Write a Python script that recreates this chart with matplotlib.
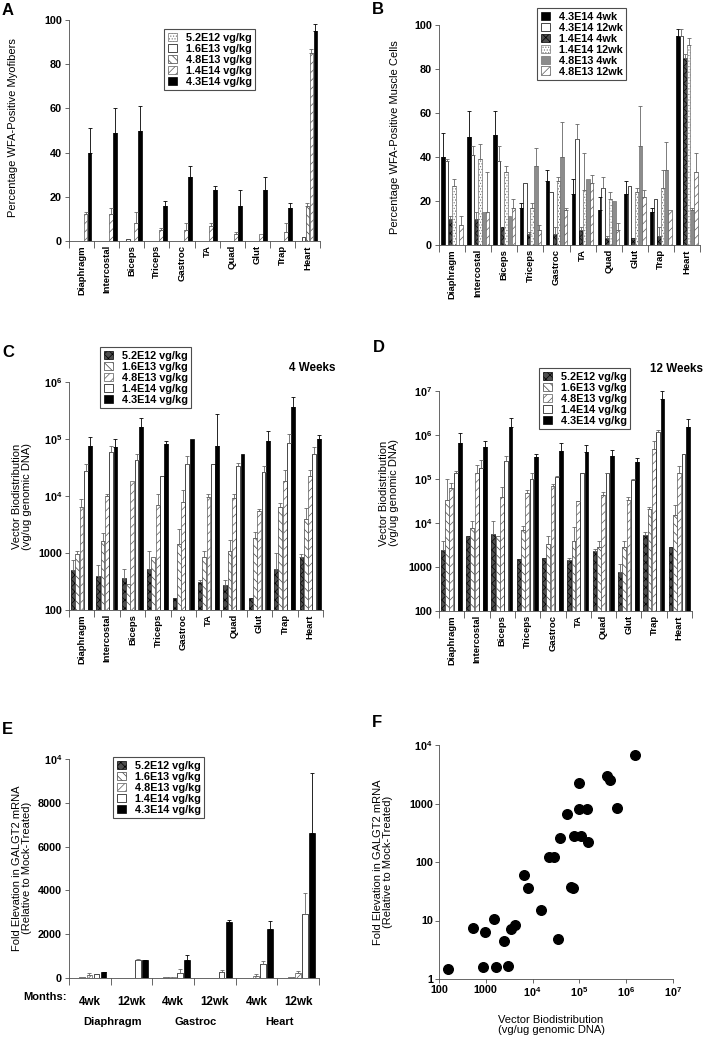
import numpy as np
import matplotlib
matplotlib.use("Agg")
import matplotlib.pyplot as plt
from matplotlib.patches import Patch
from matplotlib.ticker import FixedLocator, NullLocator, NullFormatter
from matplotlib.transforms import blended_transform_factory

W, H = 706, 1040

plt.rcParams["font.family"] = ["Liberation Sans", "DejaVu Sans"]
plt.rcParams["font.weight"] = "bold"
plt.rcParams["hatch.linewidth"] = 0.5
plt.rcParams["mathtext.fontset"] = "custom"
plt.rcParams["mathtext.rm"] = "Liberation Sans:bold"
plt.rcParams["mathtext.bf"] = "Liberation Sans:bold"
plt.rcParams["mathtext.default"] = "bf"

muscles = ["Diaphragm", "Intercostal", "Biceps", "Triceps", "Gastroc",
           "TA", "Quad", "Glut", "Trap", "Heart"]

# ---- panel A: % WFA-positive myofibers ----
doses = ["5.2E12 vg/kg", "1.6E13 vg/kg", "4.8E13 vg/kg", "1.4E14 vg/kg", "4.3E14 vg/kg"]
a_52e12 = [0, 0, 0, 0, 0, 0, 0, 0, 0, 0]
a_16e13 = [0, 0, 1, 0, 0, 0, 0, 0, 0, 2]
a_48e13 = [0, 0, 0, 0, 0, 0, 0, 0, 0, 16]
a_14e14 = [12, 12, 8, 5, 5, 7, 3, 3, 4, 85]
a_43e14 = [40, 49, 50, 16, 29, 23, 16, 23, 15, 95]
a_err_48e13 = [0, 0, 0, 0, 0, 0, 0, 0, 0, 1]
a_err_14e14 = [1, 3, 5, 1, 3, 1, 1, 0, 4, 2]
a_err_43e14 = [11, 11, 11, 2, 5, 2, 7, 6, 2, 3]

# ---- panel B: 4wk vs 12wk ----
b_labels = ["4.3E14 4wk", "4.3E14 12wk", "1.4E14 4wk", "1.4E14 12wk",
            "4.8E13 4wk", "4.8E13 12wk"]
b_43_4wk = [40, 49, 50, 17, 29, 23, 16, 23, 15, 95]
b_43_12wk = [38, 41, 38, 28, 24, 48, 26, 27, 21, 95]
b_14_4wk = [12, 12, 8, 5, 5, 7, 3, 3, 4, 85]
b_14_12wk = [27, 39, 33, 17, 29, 25, 21, 24, 26, 91]
b_48_4wk = [0, 15, 13, 36, 40, 30, 20, 45, 34, 16]
b_48_12wk = [9, 15, 17, 7, 16, 28, 7, 22, 16, 33]
b_err_43_4wk = [11, 12, 11, 2, 5, 7, 6, 6, 2, 3]
b_err_43_12wk = [1, 4, 7, 0, 0, 7, 5, 0, 0, 3]
b_err_14_4wk = [1, 3, 0, 1, 3, 1, 1, 0, 4, 2]
b_err_14_12wk = [3, 7, 3, 2, 2, 17, 3, 2, 8, 3]
b_err_48_4wk = [0, 0, 0, 8, 16, 0, 0, 18, 13, 1]
b_err_48_12wk = [4, 18, 4, 2, 1, 4, 3, 3, 0, 9]

# ---- panel C: biodistribution 4 weeks ----
c_52e12 = [510, 390, 370, 520, 160, 310, 270, 160, 520, 840]
c_16e13 = [950, 1650, 290, 850, 1450, 850, 1100, 1850, 6500, 4000]
c_48e13 = [6500, 10000, 18000, 7000, 8000, 9700, 9400, 5500, 18000, 22000]
c_14e14 = [27000, 58000, 43000, 22000, 37000, 36000, 34000, 26000, 84000, 55000]
c_43e14 = [76000, 73000, 160000, 82000, 100000, 75000, 54000, 92000, 360000, 99000]
c_err_52e12 = [230, 230, 160, 580, 0, 20, 60, 0, 480, 110]
c_err_16e13 = [150, 550, 0, 0, 1150, 250, 600, 450, 1100, 2200]
c_err_48e13 = [2500, 700, 0, 4000, 4500, 1300, 1600, 300, 11000, 7000]
c_err_14e14 = [10000, 17000, 12000, 0, 13000, 0, 4000, 7000, 36000, 18000]
c_err_43e14 = [32000, 27000, 70000, 12000, 0, 205000, 0, 48000, 190000, 18000]

# ---- panel D: biodistribution 12 weeks ----
d_52e12 = [2400, 5100, 5600, 1500, 1600, 1420, 2300, 770, 5400, 2800]
d_16e13 = [34000, 7800, 5100, 7000, 3300, 3800, 2900, 2900, 21000, 15000]
d_48e13 = [63000, 140000, 38000, 48000, 68000, 31000, 44000, 34000, 480000, 140000]
d_14e14 = [140000, 180000, 250000, 100000, 110000, 135000, 135000, 95000, 1200000, 370000]
d_43e14 = [650000, 530000, 1500000, 310000, 440000, 420000, 340000, 240000, 6600000, 1500000]
d_err_52e12 = [1400, 0, 5400, 0, 0, 150, 300, 380, 700, 0]
d_err_16e13 = [66000, 3200, 0, 1500, 1800, 4300, 900, 1000, 2000, 10000]
d_err_48e13 = [17000, 70000, 27000, 7000, 10000, 1000, 6000, 4000, 260000, 60000]
d_err_14e14 = [10000, 90000, 90000, 40000, 5000, 0, 5000, 3000, 80000, 0]
d_err_43e14 = [450000, 210000, 900000, 60000, 230000, 180000, 120000, 60000, 3400000, 800000]

# ---- panel E: GALGT2 mRNA ----
e_times = ["4wk", "12wk", "4wk", "12wk", "4wk", "12wk"]
e_tissues = ["Diaphragm", "Gastroc", "Heart"]
e_52e12 = [15, 0, 10, 0, 0, 10]
e_16e13 = [60, 20, 40, 20, 0, 30]
e_48e13 = [130, 0, 60, 0, 110, 230]
e_14e14 = [200, 800, 250, 260, 650, 2930]
e_43e14 = [270, 820, 820, 2540, 2260, 6600]
e_err_48e13 = [100, 0, 0, 0, 50, 110]
e_err_14e14 = [0, 80, 150, 90, 120, 950]
e_err_43e14 = [20, 20, 220, 100, 330, 2750]

# ---- panel F: mRNA vs biodistribution ----
f_biodist = [155, 525, 970, 870, 1480, 1630, 2460, 2950, 3450, 4180, 6700, 8100,
             15300, 35000, 65000, 72000, 1.55e6, 3.9e5, 4.6e5, 6.5e5, 1.0e5, 1.0e5,
             1.45e5, 55000, 75000, 1.1e5, 1.5e5, 38000, 22000, 29000]
f_fold = [1.47, 7.5, 6.3, 1.6, 10.6, 1.6, 4.4, 1.7, 7.1, 8.5, 59, 36,
          15, 4.85, 38, 36, 6700, 2900, 2550, 830, 2250, 800,
          800, 660, 280, 280, 220, 260, 120, 120]

# bar styles
S_DOTS = dict(facecolor="white", edgecolor="0.45", hatch="......")
S_WHITE = dict(facecolor="white", edgecolor="black")
S_BACK = dict(facecolor="white", edgecolor="0.25", hatch="\\\\\\\\")
S_FWD = dict(facecolor="white", edgecolor="0.35", hatch="////")
S_BLACK = dict(facecolor="black", edgecolor="black")
S_CHECK = dict(facecolor="0.3", edgecolor="black", hatch="xxxx")
S_GRAY = dict(facecolor="0.55", edgecolor="0.45")

TICK_FS = 6.8
YTICK_FS = 7.8
LABEL_FS = 8.0

fig = plt.figure(figsize=(W / 100, H / 100), dpi=100)


def px_axes(l, t, r, b):
    return fig.add_axes([l / W, 1 - b / H, (r - l) / W, (b - t) / H])


def draw_bars(ax, means, errs, styles, centers, width, bottom=0):
    n = len(means[0])
    base = np.arange(n)
    for vals, err, st, off in zip(means, errs, styles, centers):
        vals = np.asarray(vals, float)
        err = np.asarray(err, float)
        x = base + off
        keep = vals > 0
        ax.bar(x[keep], vals[keep] - bottom, width, bottom=bottom, linewidth=0.5, **st)
        ek = keep & (err > 0)
        ec = "black" if st["facecolor"] == "black" else "0.4"
        ax.errorbar(x[ek], vals[ek], yerr=[np.zeros(ek.sum()), err[ek]], fmt="none",
                    ecolor=ec, elinewidth=0.6, capsize=1.4, capthick=0.6)


def style_axes(ax, labels, rotate=True):
    n = len(labels)
    for s in ("top", "right"):
        ax.spines[s].set_visible(False)
    for s in ("left", "bottom"):
        ax.spines[s].set_linewidth(0.6)
        ax.spines[s].set_color("0.3")
    ax.set_xlim(0, n)
    ax.xaxis.set_major_locator(FixedLocator(np.arange(n + 1)))
    ax.xaxis.set_major_formatter(NullFormatter())
    ax.set_xticks(np.arange(n) + 0.5, labels, minor=True,
                  rotation=90 if rotate else 0, fontsize=TICK_FS)
    ax.tick_params(axis="x", which="major", length=5, width=0.6, color="0.3")
    ax.tick_params(axis="x", which="minor", length=0, pad=3)
    ax.tick_params(axis="y", which="major", length=3, width=0.6, labelsize=YTICK_FS,
                   pad=2, color="0.3")
    ax.tick_params(axis="y", which="minor", length=0)


def add_legend(ax, styles, labels, x0, y0, fs=7.8):
    handles = [Patch(linewidth=0.5, label=l, **st) for st, l in zip(styles, labels)]
    leg = ax.legend(handles=handles, loc="upper left", bbox_to_anchor=(x0 / W, 1 - y0 / H),
                    bbox_transform=fig.transFigure, borderaxespad=0, fancybox=False,
                    fontsize=fs, handlelength=0.85, handleheight=0.85, handletextpad=0.8,
                    labelspacing=0.08, borderpad=0.35, framealpha=1)
    leg.get_frame().set_edgecolor("0.3")
    leg.get_frame().set_linewidth(0.8)


def ylabel(x, y, text, fs=LABEL_FS):
    fig.text(x / W, 1 - y / H, text, rotation=90, ha="center", va="center",
             fontsize=fs, fontweight="normal", linespacing=1.0)


def letter(x, y, s):
    fig.text(x / W, 1 - y / H, s, ha="left", va="top", fontsize=12, fontweight="bold")


dose_ticks = [100, 1000, 1e4, 1e5, 1e6, 1e7]
dose_tick_labels = ["100", "1000", "$10^4$", "$10^5$", "$10^6$", "$10^7$"]

# ---- A ----
axA = px_axes(69, 20, 320, 241)
styles_a = [S_DOTS, S_WHITE, S_BACK, S_FWD, S_BLACK]
draw_bars(axA, [a_52e12, a_16e13, a_48e13, a_14e14, a_43e14],
          [np.zeros(10), np.zeros(10), a_err_48e13, a_err_14e14, a_err_43e14],
          styles_a, [0.18, 0.34, 0.5, 0.66, 0.82], 0.15)
style_axes(axA, muscles)
axA.set_ylim(0, 100)
axA.set_yticks([0, 20, 40, 60, 80, 100])
add_legend(axA, styles_a, doses, 164, 29)
ylabel(13, 128, "Percentage WFA-Positive Myofibers")
letter(2, 3, "A")

# ---- B ----
axB = px_axes(439, 25, 700, 245)
styles_b = [S_BLACK, S_WHITE, S_CHECK, S_DOTS, S_GRAY, S_FWD]
draw_bars(axB, [b_43_4wk, b_43_12wk, b_14_4wk, b_14_12wk, b_48_4wk, b_48_12wk],
          [b_err_43_4wk, b_err_43_12wk, b_err_14_4wk, b_err_14_12wk, b_err_48_4wk, b_err_48_12wk],
          styles_b, [0.15, 0.29, 0.43, 0.57, 0.71, 0.85], 0.13)
style_axes(axB, muscles)
axB.set_ylim(0, 100)
axB.set_yticks([0, 20, 40, 60, 80, 100])
add_legend(axB, styles_b, b_labels, 537, 8)
ylabel(395, 137, "Percentage WFA-Positive Muscle Cells")
letter(372, 2, "B")

# ---- C ----
styles_cd = [S_CHECK, S_BACK, S_FWD, S_WHITE, S_BLACK]
axC = px_axes(69, 382, 323, 610)
axC.set_yscale("log")
draw_bars(axC, [c_52e12, c_16e13, c_48e13, c_14e14, c_43e14],
          [c_err_52e12, c_err_16e13, c_err_48e13, c_err_14e14, c_err_43e14],
          styles_cd, [0.15, 0.32, 0.49, 0.66, 0.83], 0.15, bottom=100)
style_axes(axC, muscles)
axC.set_ylim(100, 1e6)
axC.set_yticks(dose_ticks[:5], dose_tick_labels[:5])
axC.yaxis.set_minor_locator(NullLocator())
add_legend(axC, styles_cd, doses, 100, 347)
ylabel(22, 496, "Vector Biodistribution\n(vg/ug genomic DNA)")
fig.text(312 / W, 1 - 368 / H, "4 Weeks", ha="center", va="center", fontsize=8.4)
letter(2, 345, "C")

# ---- D ----
axD = px_axes(439, 391, 692, 611)
axD.set_yscale("log")
draw_bars(axD, [d_52e12, d_16e13, d_48e13, d_14e14, d_43e14],
          [d_err_52e12, d_err_16e13, d_err_48e13, d_err_14e14, d_err_43e14],
          styles_cd, [0.15, 0.32, 0.49, 0.66, 0.83], 0.15, bottom=100)
style_axes(axD, muscles)
axD.set_ylim(100, 1e7)
axD.set_yticks(dose_ticks, dose_tick_labels)
axD.yaxis.set_minor_locator(NullLocator())
add_legend(axD, styles_cd, doses, 539, 368)
ylabel(389, 493, "Vector Biodistribution\n(vg/ug genomic DNA)")
fig.text(677 / W, 1 - 369 / H, "12 Weeks", ha="center", va="center", fontsize=8.4)
letter(373, 340, "D")

# ---- E ----
axE = px_axes(69, 759, 319, 978)
draw_bars(axE, [e_52e12, e_16e13, e_48e13, e_14e14, e_43e14],
          [np.zeros(6), np.zeros(6), e_err_48e13, e_err_14e14, e_err_43e14],
          styles_cd, [0.15, 0.32, 0.49, 0.66, 0.83], 0.14)
style_axes(axE, e_times, rotate=False)
axE.tick_params(axis="x", which="minor", pad=13, labelsize=8.4)
axE.set_ylim(0, 10000)
axE.set_yticks([0, 2000, 4000, 6000, 8000, 10000],
               ["0", "2000", "4000", "6000", "8000", "$10^4$"])
tr = blended_transform_factory(axE.transData, axE.transAxes)
axE.text(-0.05, -0.087, "Months:", transform=tr, ha="right", va="center", fontsize=8.0)
for i, t in enumerate(e_tissues):
    axE.text(2 * i + 1.05, -0.2, t, transform=tr, ha="center", va="center", fontsize=8.0)
add_legend(axE, styles_cd, doses, 113, 757)
ylabel(22, 868, "Fold Elevation in GALGT2 mRNA\n(Relative to Mock-Treated)")
letter(2, 722, "E")

# ---- F ----
axF = px_axes(439, 745, 673, 979)
axF.scatter(f_biodist, f_fold, s=48, color="black", zorder=3, clip_on=False)
axF.set_xscale("log")
axF.set_yscale("log")
axF.set_xlim(100, 1e7)
axF.set_ylim(1, 1e4)
axF.set_xticks(dose_ticks, dose_tick_labels)
axF.set_yticks([1, 10, 100, 1000, 1e4], ["1", "10", "100", "1000", "$10^4$"])
axF.xaxis.set_minor_locator(NullLocator())
axF.yaxis.set_minor_locator(NullLocator())
for s in ("top", "right"):
    axF.spines[s].set_visible(False)
for s in ("left", "bottom"):
    axF.spines[s].set_linewidth(0.6)
    axF.spines[s].set_color("0.3")
axF.tick_params(length=3, width=0.6, labelsize=7.8, pad=1.5, color="0.3")
ylabel(383, 862, "Fold Elevation in GALGT2 mRNA\n(Relative to Mock-Treated)")
fig.text(551 / W, 1 - 1025 / H, "Vector Biodistribution\n(vg/ug genomic DNA)",
         ha="center", va="center", fontsize=LABEL_FS, fontweight="normal", linespacing=1.0)
letter(372, 715, "F")

fig.savefig("out.png", dpi=100)
